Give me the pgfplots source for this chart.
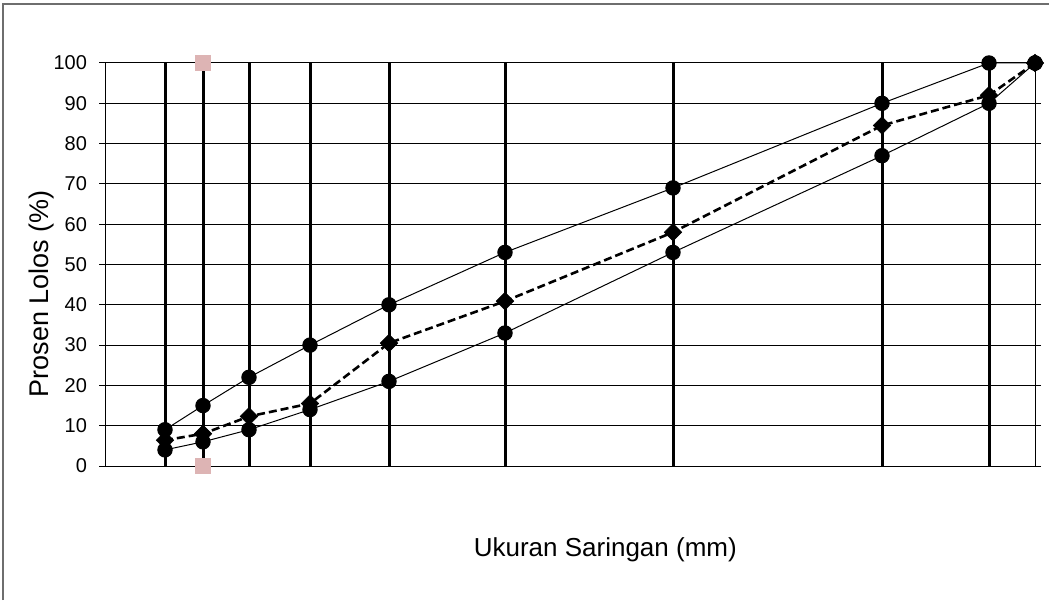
\documentclass[border=0pt]{standalone}
\usepackage{pgfplots}
\pgfplotsset{compat=1.18}
\usepackage{fontspec}
\setmainfont{Liberation Sans}
\definecolor{pinkmark}{RGB}{221,180,180}
\definecolor{framegray}{RGB}{110,110,110}
\begin{document}
\begin{tikzpicture}
\useasboundingbox (0,0) rectangle (524.5pt,300pt);
\draw[framegray, line width=1pt] (1.5pt,0) -- (1.5pt,298pt) -- (524.5pt,298pt);
\begin{axis}[
  at={(52.5pt,67pt)}, anchor=south west,
  width=465pt, height=201.5pt, scale only axis,
  xmin=0, xmax=930, ymin=0, ymax=100,
  clip=false,
  axis line style={black, line width=0.5pt},
  xtick={60,98,144,205,284,400,568,777,884},
  xticklabels={},
  ytick={0,10,...,100},
  xmajorgrids, ymajorgrids,
  x grid style={black, line width=1.5pt},
  y grid style={black, line width=0.5pt},
  tick align=outside,
  major tick length=3pt,
  xtick style={draw=none},
  ytick style={black, line width=0.5pt},
  ticklabel style={font=\fontsize{10}{12}\selectfont},
  yticklabel style={xshift=-2.5pt},
  /pgf/number format/assume math mode=true,
  xlabel={Ukuran Saringan (mm)},
  ylabel={Prosen Lolos (\%)},
  xlabel style={at={(axis description cs:0.538,-0.208)}, anchor=center, font=\fontsize{13}{15}\selectfont},
  ylabel style={at={(axis description cs:-0.068,0.427)}, anchor=center, font=\fontsize{13.5}{15}\selectfont},
]
\addplot[black, line width=0.5pt, mark=*, mark size=3.6pt, mark options={solid}]
coordinates {(60,9)(98,15)(144,22)(205,30)(284,40)(400,53)(568,69)(777,90)(884,100)(930,100)};
\addplot[black, line width=0.5pt, mark=*, mark size=3.6pt, mark options={solid}]
coordinates {(60,4)(98,6)(144,9)(205,14)(284,21)(400,33)(568,53)(777,77)(884,90)(930,100)};
\addplot[black, line width=1.3pt, dash pattern=on 4pt off 2pt, mark=square*, mark size=3.1pt, mark options={solid, rotate=45, line width=0.3pt}]
coordinates {(60,6.4)(98,8)(144,12.3)(205,15.5)(284,30.5)(400,40.9)(568,58)(777,84.5)(884,92)(930,100)};
\addplot[only marks, mark=square*, mark size=3.75pt, color=pinkmark, mark options={draw=pinkmark, fill=pinkmark}]
coordinates {(98,0)(98,100)};
\end{axis}
\end{tikzpicture}
\end{document}
